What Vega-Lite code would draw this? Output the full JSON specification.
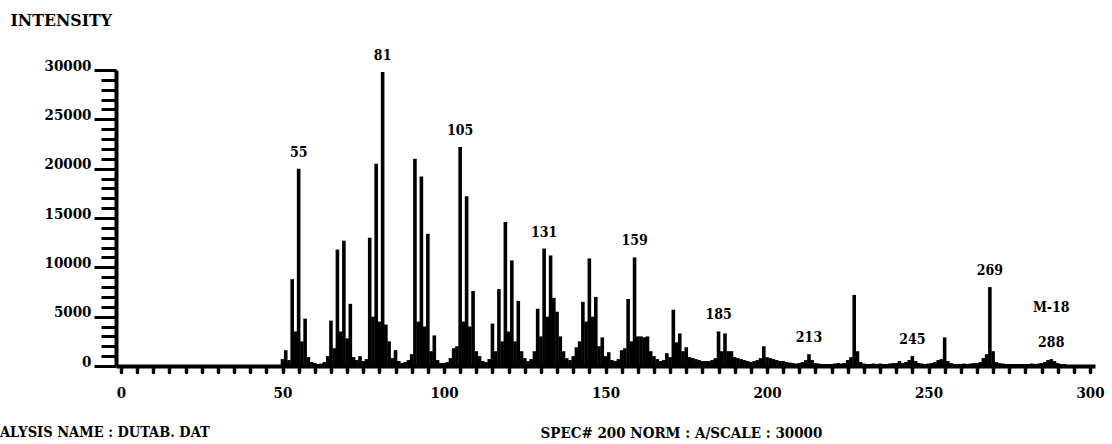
{
  "$schema": "https://vega.github.io/schema/vega-lite/v6.json",
  "width": 979,
  "height": 296,
  "autosize": {"type": "none"},
  "padding": {"left": 116, "top": 70, "right": 17, "bottom": 78},
  "background": "white",
  "config": {"font": "DejaVu Serif Condensed, DejaVu Serif", "view": {"stroke": null}, "axis": {"grid": false}},
  "title": {"text": "ALYSIS  NAME : DUTAB. DAT", "orient": "bottom", "anchor": "start", "frame": "group", "dx": -116, "offset": -14, "fontSize": 14.5, "fontWeight": "bold", "color": "black", "font": "DejaVu Serif Condensed, DejaVu Serif"},
  "data": {"values": [
    {"mz":50,"intensity":700},{"mz":51,"intensity":1600},{"mz":52,"intensity":600},{"mz":53,"intensity":8800},{"mz":54,"intensity":3500},
    {"mz":55,"intensity":20000,"label":"55"},{"mz":56,"intensity":2500},{"mz":57,"intensity":4800},{"mz":58,"intensity":900},{"mz":59,"intensity":400},
    {"mz":60,"intensity":300},{"mz":61,"intensity":200},{"mz":62,"intensity":250},{"mz":63,"intensity":400},{"mz":64,"intensity":1000},
    {"mz":65,"intensity":4600},{"mz":66,"intensity":1800},{"mz":67,"intensity":11800},{"mz":68,"intensity":3500},{"mz":69,"intensity":12700},
    {"mz":70,"intensity":2800},{"mz":71,"intensity":6300},{"mz":72,"intensity":900},{"mz":73,"intensity":600},{"mz":74,"intensity":1000},
    {"mz":75,"intensity":500},{"mz":76,"intensity":700},{"mz":77,"intensity":13000},{"mz":78,"intensity":5000},{"mz":79,"intensity":20500},
    {"mz":80,"intensity":4500},{"mz":81,"intensity":29800,"label":"81"},{"mz":82,"intensity":4200},{"mz":83,"intensity":2500},{"mz":84,"intensity":800},
    {"mz":85,"intensity":1600},{"mz":86,"intensity":500},{"mz":87,"intensity":300},{"mz":88,"intensity":400},{"mz":89,"intensity":600},
    {"mz":90,"intensity":1200},{"mz":91,"intensity":21000},{"mz":92,"intensity":4500},{"mz":93,"intensity":19200},{"mz":94,"intensity":4000},
    {"mz":95,"intensity":13400},{"mz":96,"intensity":1500},{"mz":97,"intensity":3100},{"mz":98,"intensity":600},{"mz":99,"intensity":300},
    {"mz":100,"intensity":300},{"mz":101,"intensity":400},{"mz":102,"intensity":800},{"mz":103,"intensity":1800},{"mz":104,"intensity":2000},
    {"mz":105,"intensity":22200,"label":"105"},{"mz":106,"intensity":4500},{"mz":107,"intensity":17200},{"mz":108,"intensity":4000},{"mz":109,"intensity":7600},
    {"mz":110,"intensity":1500},{"mz":111,"intensity":1000},{"mz":112,"intensity":500},{"mz":113,"intensity":400},{"mz":114,"intensity":700},
    {"mz":115,"intensity":4300},{"mz":116,"intensity":1500},{"mz":117,"intensity":7800},{"mz":118,"intensity":2500},{"mz":119,"intensity":14600},
    {"mz":120,"intensity":3500},{"mz":121,"intensity":10700},{"mz":122,"intensity":2500},{"mz":123,"intensity":6600},{"mz":124,"intensity":1500},
    {"mz":125,"intensity":800},{"mz":126,"intensity":500},{"mz":127,"intensity":700},{"mz":128,"intensity":1500},{"mz":129,"intensity":5800},
    {"mz":130,"intensity":3000},{"mz":131,"intensity":11900,"label":"131"},{"mz":132,"intensity":5000},{"mz":133,"intensity":11200},{"mz":134,"intensity":6900},
    {"mz":135,"intensity":5500},{"mz":136,"intensity":3000},{"mz":137,"intensity":1500},{"mz":138,"intensity":800},{"mz":139,"intensity":600},
    {"mz":140,"intensity":1000},{"mz":141,"intensity":1900},{"mz":142,"intensity":2500},{"mz":143,"intensity":6500},{"mz":144,"intensity":4500},
    {"mz":145,"intensity":10900},{"mz":146,"intensity":5000},{"mz":147,"intensity":7000},{"mz":148,"intensity":2000},{"mz":149,"intensity":2900},
    {"mz":150,"intensity":1000},{"mz":151,"intensity":1400},{"mz":152,"intensity":600},{"mz":153,"intensity":500},{"mz":154,"intensity":700},
    {"mz":155,"intensity":1600},{"mz":156,"intensity":1800},{"mz":157,"intensity":6800},{"mz":158,"intensity":2500},{"mz":159,"intensity":11000,"label":"159"},
    {"mz":160,"intensity":3000},{"mz":161,"intensity":3000},{"mz":162,"intensity":2900},{"mz":163,"intensity":3000},{"mz":164,"intensity":1500},
    {"mz":165,"intensity":1000},{"mz":166,"intensity":700},{"mz":167,"intensity":500},{"mz":168,"intensity":600},{"mz":169,"intensity":1300},
    {"mz":170,"intensity":900},{"mz":171,"intensity":5700},{"mz":172,"intensity":2400},{"mz":173,"intensity":3300},{"mz":174,"intensity":1500},
    {"mz":175,"intensity":1900},{"mz":176,"intensity":900},{"mz":177,"intensity":800},{"mz":178,"intensity":700},{"mz":179,"intensity":600},
    {"mz":180,"intensity":500},{"mz":181,"intensity":500},{"mz":182,"intensity":500},{"mz":183,"intensity":600},{"mz":184,"intensity":800},
    {"mz":185,"intensity":3500,"label":"185"},{"mz":186,"intensity":1500},{"mz":187,"intensity":3300},{"mz":188,"intensity":1500},{"mz":189,"intensity":1500},
    {"mz":190,"intensity":900},{"mz":191,"intensity":800},{"mz":192,"intensity":700},{"mz":193,"intensity":600},{"mz":194,"intensity":500},
    {"mz":195,"intensity":400},{"mz":196,"intensity":500},{"mz":197,"intensity":600},{"mz":198,"intensity":800},{"mz":199,"intensity":2000},
    {"mz":200,"intensity":900},{"mz":201,"intensity":800},{"mz":202,"intensity":700},{"mz":203,"intensity":600},{"mz":204,"intensity":500},
    {"mz":205,"intensity":500},{"mz":206,"intensity":400},{"mz":207,"intensity":350},{"mz":208,"intensity":300},{"mz":209,"intensity":250},
    {"mz":210,"intensity":300},{"mz":211,"intensity":400},{"mz":212,"intensity":600},{"mz":213,"intensity":1200,"label":"213"},{"mz":214,"intensity":600},
    {"mz":215,"intensity":300},{"mz":216,"intensity":250},{"mz":217,"intensity":200},{"mz":218,"intensity":200},{"mz":219,"intensity":200},
    {"mz":220,"intensity":200},{"mz":221,"intensity":250},{"mz":222,"intensity":300},{"mz":223,"intensity":250},{"mz":224,"intensity":300},
    {"mz":225,"intensity":600},{"mz":226,"intensity":900},{"mz":227,"intensity":7200},{"mz":228,"intensity":1500},{"mz":229,"intensity":400},
    {"mz":230,"intensity":250},{"mz":231,"intensity":200},{"mz":232,"intensity":200},{"mz":233,"intensity":250},{"mz":234,"intensity":200},
    {"mz":235,"intensity":250},{"mz":236,"intensity":200},{"mz":237,"intensity":200},{"mz":238,"intensity":250},{"mz":239,"intensity":300},
    {"mz":240,"intensity":300},{"mz":241,"intensity":500},{"mz":242,"intensity":300},{"mz":243,"intensity":400},{"mz":244,"intensity":600},
    {"mz":245,"intensity":1000,"label":"245"},{"mz":246,"intensity":500},{"mz":247,"intensity":300},{"mz":248,"intensity":250},{"mz":249,"intensity":200},
    {"mz":250,"intensity":250},{"mz":251,"intensity":300},{"mz":252,"intensity":400},{"mz":253,"intensity":600},{"mz":254,"intensity":700},
    {"mz":255,"intensity":2900},{"mz":256,"intensity":500},{"mz":257,"intensity":300},{"mz":258,"intensity":200},{"mz":259,"intensity":200},
    {"mz":260,"intensity":200},{"mz":261,"intensity":250},{"mz":262,"intensity":200},{"mz":263,"intensity":250},{"mz":264,"intensity":300},
    {"mz":265,"intensity":300},{"mz":266,"intensity":400},{"mz":267,"intensity":800},{"mz":268,"intensity":1200},{"mz":269,"intensity":8000,"label":"269"},
    {"mz":270,"intensity":1500},{"mz":271,"intensity":400},{"mz":272,"intensity":300},{"mz":273,"intensity":250},{"mz":274,"intensity":200},
    {"mz":275,"intensity":200},{"mz":276,"intensity":200},{"mz":277,"intensity":200},{"mz":278,"intensity":200},{"mz":279,"intensity":200},
    {"mz":280,"intensity":200},{"mz":281,"intensity":200},{"mz":282,"intensity":250},{"mz":283,"intensity":200},{"mz":284,"intensity":250},
    {"mz":285,"intensity":300},{"mz":286,"intensity":400},{"mz":287,"intensity":600},{"mz":288,"intensity":700,"label":"288","note":"M-18"},{"mz":289,"intensity":500},
    {"mz":290,"intensity":300},{"mz":291,"intensity":200},{"mz":292,"intensity":200}
  ]},
  "encoding": {
    "x": {
      "field": "mz", "type": "quantitative",
      "scale": {"domain": [0, 300], "nice": false},
      "axis": {
        "values": [0,5,10,15,20,25,30,35,40,45,50,55,60,65,70,75,80,85,90,95,100,105,110,115,120,125,130,135,140,145,150,155,160,165,170,175,180,185,190,195,200,205,210,215,220,225,230,235,240,245,250,255,260,265,270,275,280,285,290,295,300],
        "labelExpr": "datum.value % 50 === 0 ? datum.label : ''",
        "labelOverlap": false,
        "labelFontSize": 15, "labelFontWeight": "bold", "labelColor": "black", "labelPadding": 13,
        "tickSize": 6, "tickWidth": 3.5, "tickColor": "black", "tickCap": "round",
        "domainColor": "black", "domainWidth": 4,
        "title": "SPEC# 200  NORM : A/SCALE : 30000",
        "titleX": 424, "titleY": 66, "titleAlign": "left", "titleBaseline": "middle",
        "titleFontSize": 15, "titleFontWeight": "bold", "titleColor": "black"
      }
    },
    "y": {
      "field": "intensity", "type": "quantitative",
      "scale": {"domain": [0, 30000], "nice": false},
      "axis": {
        "values": [0,1000,2000,3000,4000,5000,6000,7000,8000,9000,10000,11000,12000,13000,14000,15000,16000,17000,18000,19000,20000,21000,22000,23000,24000,25000,26000,27000,28000,29000,30000],
        "labelExpr": "datum.value % 5000 === 0 ? format(datum.value, 'd') : ''",
        "labelOverlap": false,
        "labelFontSize": 15, "labelFontWeight": "bold", "labelColor": "black", "labelPadding": 3, "labelOffset": -5,
        "tickSize": {"condition": {"test": "datum.value % 5000 === 0", "value": 22}, "value": 15},
        "tickWidth": 3, "tickColor": "black",
        "domainColor": "black", "domainWidth": 4,
        "title": "INTENSITY", "titleAngle": 0, "titleAlign": "left", "titleBaseline": "middle",
        "titleX": -106, "titleY": -50, "titleFontSize": 17.5, "titleFontWeight": "bold", "titleColor": "black"
      }
    }
  },
  "layer": [
    {
      "mark": {"type": "bar", "width": 3.6, "color": "black"}
    },
    {
      "transform": [{"filter": "datum.label != null"}],
      "mark": {"type": "text", "baseline": "bottom", "dy": -9, "fontSize": 14, "fontWeight": "bold", "color": "black"},
      "encoding": {"text": {"field": "label"}}
    },
    {
      "transform": [{"filter": "datum.note != null"}],
      "mark": {"type": "text", "baseline": "bottom", "dy": -44, "fontSize": 14, "fontWeight": "bold", "color": "black"},
      "encoding": {"text": {"field": "note"}}
    }
  ]
}
